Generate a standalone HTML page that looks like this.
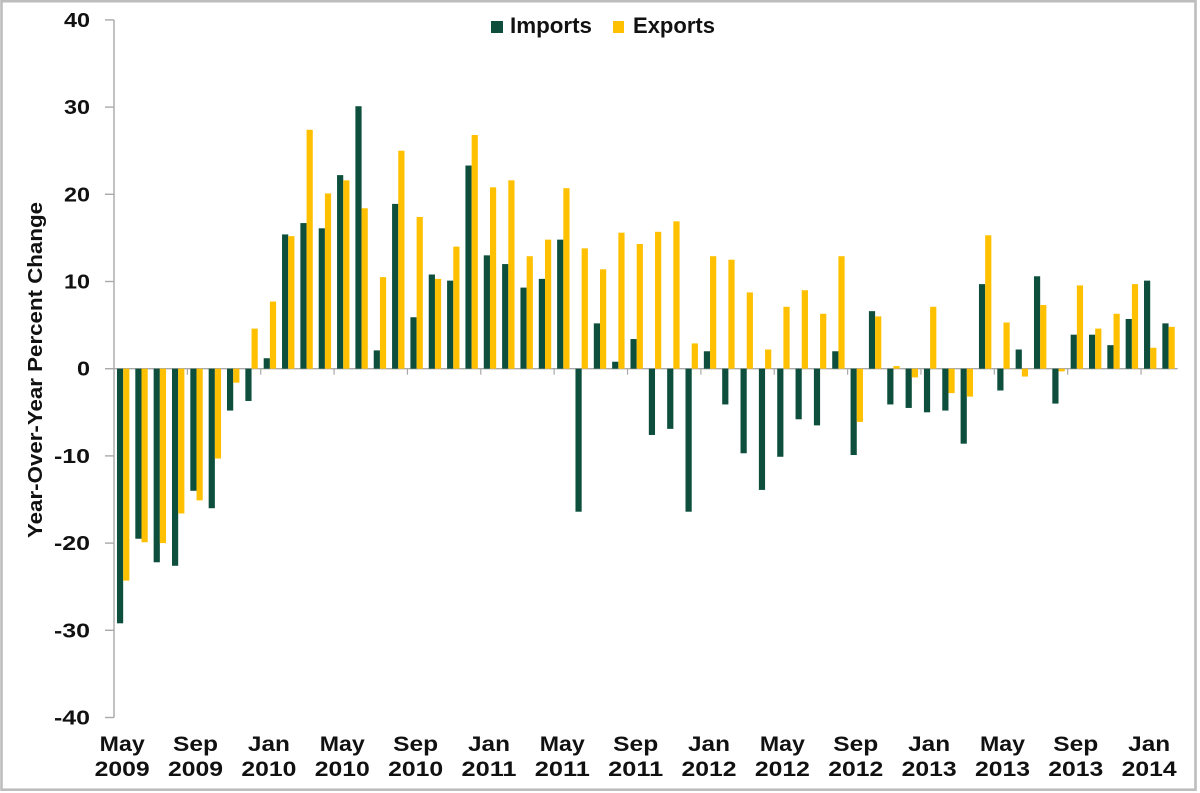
<!DOCTYPE html>
<html>
<head>
<meta charset="utf-8">
<style>
html,body{margin:0;padding:0;background:#fff;}
svg{display:block;}
text{font-family:"Liberation Sans",Arial,sans-serif;font-weight:bold;fill:#111;}
</style>
</head>
<body>
<svg id="c" width="1200" height="793" viewBox="0 0 1200 793" xmlns="http://www.w3.org/2000/svg">
<rect x="0" y="0" width="1200" height="793" fill="#fff"/>
<rect x="1.5" y="1.2" width="1194" height="788.5" fill="none" stroke="#bdbdbd" stroke-width="2.6"/>

<!-- legend -->
<rect x="491" y="21" width="12" height="12" fill="#0d4f3c"/>
<text x="510" y="33" font-size="22" textLength="82" lengthAdjust="spacingAndGlyphs">Imports</text>
<rect x="613" y="21" width="11" height="12" fill="#ffc000"/>
<text x="633" y="33" font-size="22" textLength="82" lengthAdjust="spacingAndGlyphs">Exports</text>

<!-- y title -->
<text transform="translate(42,370) rotate(-90)" text-anchor="middle" font-size="20" textLength="336" lengthAdjust="spacingAndGlyphs">Year-Over-Year Percent Change</text>

<g id="axes"></g>
<g id="bars"></g>
<g id="labels"></g>
</svg>
<script>
(function(){
var NS="http://www.w3.org/2000/svg";
function el(tag,attrs,txt){var e=document.createElementNS(NS,tag);for(var k in attrs)e.setAttribute(k,attrs[k]);if(txt!==undefined)e.textContent=txt;return e;}
var imp=[-29.2,-19.5,-22.2,-22.6,-14.0,-16.0,-4.8,-3.7,1.2,15.4,16.7,16.1,22.2,30.1,2.1,18.9,5.9,10.8,10.1,23.3,13.0,12.0,9.3,10.3,14.8,-16.4,5.2,0.8,3.4,-7.6,-6.9,-16.4,2.0,-4.1,-9.7,-13.9,-10.1,-5.8,-6.5,2.0,-9.9,6.6,-4.1,-4.5,-5.0,-4.8,-8.6,9.7,-2.5,2.2,10.6,-4.0,3.9,3.9,2.7,5.7,10.1,5.2];
var exp=[-24.3,-19.9,-20.0,-16.6,-15.1,-10.3,-1.6,4.6,7.7,15.2,27.4,20.1,21.6,18.4,10.5,25.0,17.4,10.3,14.0,26.8,20.8,21.6,12.9,14.8,20.7,13.8,11.4,15.6,14.3,15.7,16.9,2.9,12.9,12.5,8.75,2.2,7.1,9.0,6.3,12.9,-6.1,6.0,0.3,-1.0,7.1,-2.8,-3.2,15.3,5.3,-0.9,7.3,-0.3,9.55,4.6,6.3,9.7,2.4,4.8];
var X0=114,CW=18.34,Y0=368.7,S=8.72,BW=6.2;
function Y(v){return Y0-v*S;}
var bars=document.getElementById("bars"),axes=document.getElementById("axes"),labels=document.getElementById("labels");
for(var i=0;i<58;i++){
  var c=X0+(i+0.5)*CW;
  var a=imp[i],b=exp[i];
  bars.appendChild(el("rect",{x:(c-BW).toFixed(2),y:Math.min(Y(a),Y0).toFixed(2),width:BW,height:Math.abs(a*S).toFixed(2),fill:"#0d4f3c"}));
  bars.appendChild(el("rect",{x:c.toFixed(2),y:Math.min(Y(b),Y0).toFixed(2),width:BW,height:Math.abs(b*S).toFixed(2),fill:"#ffc000"}));
}
// y axis
axes.appendChild(el("line",{x1:X0,y1:Y(40),x2:X0,y2:Y(-40),stroke:"#a9a9a9","stroke-width":1.4}));
for(var v=-40;v<=40;v+=10){
  var y=Y(v);
  axes.appendChild(el("line",{x1:105,y1:y,x2:X0,y2:y,stroke:"#a9a9a9","stroke-width":1.4}));
  var s=String(v);
  var len=s.length===1?13:(s.length===2?(v<0?24:26):36);
  labels.appendChild(el("text",{x:90,y:(y+7).toFixed(1),"font-size":20,"text-anchor":"end",textLength:len,lengthAdjust:"spacingAndGlyphs"},s));
}
// x axis (zero line)
axes.appendChild(el("line",{x1:X0,y1:Y0,x2:X0+58*CW,y2:Y0,stroke:"#a9a9a9","stroke-width":1.4}));
for(var k=4;k<=56;k+=4){
  var x=X0+k*CW;
  axes.appendChild(el("line",{x1:x,y1:Y0,x2:x,y2:Y0+6,stroke:"#a9a9a9","stroke-width":1.2}));
}
var mons=["May","Sep","Jan"],ml={"May":45,"Sep":45,"Jan":42};
var years=[2009,2009,2010,2010,2010,2011,2011,2011,2012,2012,2012,2013,2013,2013,2014];
for(var j=0;j<15;j++){
  var idx=j*4,cx=X0+(idx+0.5)*CW-1;
  var m=mons[j%3];
  labels.appendChild(el("text",{x:cx.toFixed(1),y:751,"font-size":21,"text-anchor":"middle",textLength:ml[m],lengthAdjust:"spacingAndGlyphs"},m));
  labels.appendChild(el("text",{x:cx.toFixed(1),y:776,"font-size":21,"text-anchor":"middle",textLength:55,lengthAdjust:"spacingAndGlyphs"},String(years[j])));
}
})();
</script>
</body>
</html>
